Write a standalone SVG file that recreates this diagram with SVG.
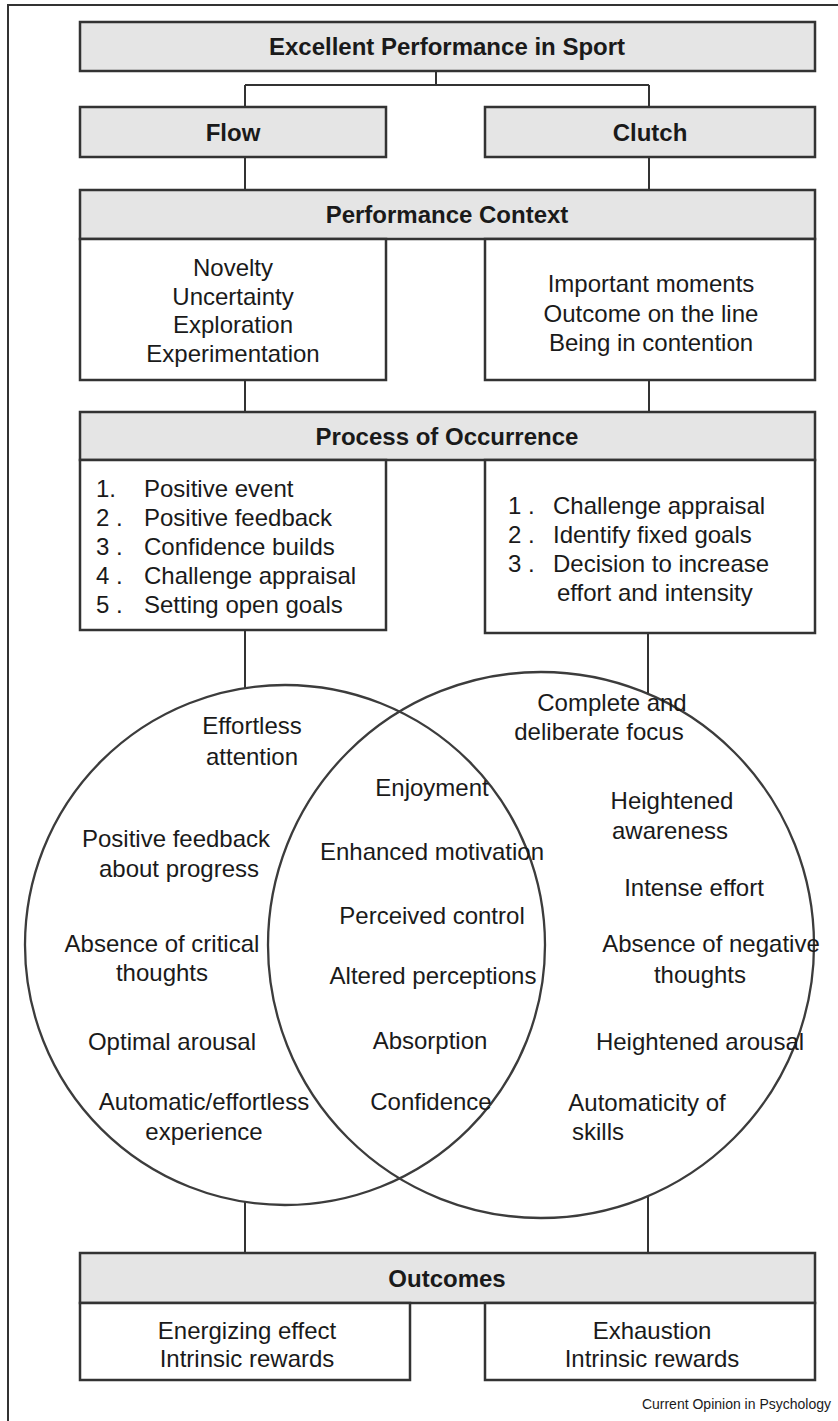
<svg xmlns="http://www.w3.org/2000/svg" width="838" height="1421" viewBox="0 0 838 1421">
<style>
.hdr{fill:#e5e5e5;stroke:#333;stroke-width:2.5}
.box{fill:#fff;stroke:#333;stroke-width:2.5}
.ln{stroke:#333;stroke-width:2;fill:none}
.circ{stroke:#3c3c3c;stroke-width:2.3;fill:none}
text{font-family:"Liberation Sans",Arial,sans-serif;fill:#1a1a1a}
.b{font-weight:bold;font-size:24px;text-anchor:middle}
.t{font-size:24px;text-anchor:middle}
.l{font-size:24px}
.c{font-size:24px;text-anchor:middle}
</style>
<rect width="838" height="1421" fill="#fff"/>
<path class="ln" d="M8,1421 V5 H838"/>
<g id="connectors">
<path class="ln" d="M436,71 V85 M245,85 H649 M245,85 V107 M649,85 V107"/>
<path class="ln" d="M245,157 V190 M649,157 V190"/>
<path class="ln" d="M245,380 V412 M649,380 V412"/>
<path class="ln" d="M245,630 V688 M648,633 V694"/>
<path class="ln" d="M245,1202 V1253 M648,1196 V1253"/>
</g>
<g id="top"><rect class="hdr" x="80" y="22" width="735" height="49"/><text class="b" x="447" y="55">Excellent Performance in Sport</text></g>
<g id="flow"><rect class="hdr" x="80" y="107" width="306" height="50"/><text class="b" x="233" y="141">Flow</text></g>
<g id="clutch"><rect class="hdr" x="485" y="107" width="330" height="50"/><text class="b" x="650" y="141">Clutch</text></g>
<g id="context"><rect class="hdr" x="80" y="190" width="735" height="49"/><text class="b" x="447" y="223">Performance Context</text></g>
<g id="context-flow"><rect class="box" x="80" y="239" width="306" height="141"/>
<text class="t" x="233" y="276">Novelty</text><text class="t" x="233" y="305">Uncertainty</text><text class="t" x="233" y="333">Exploration</text><text class="t" x="233" y="362">Experimentation</text></g>
<g id="context-clutch"><rect class="box" x="485" y="239" width="330" height="141"/>
<text class="t" x="651" y="292">Important moments</text><text class="t" x="651" y="322">Outcome on the line</text><text class="t" x="651" y="351">Being in contention</text></g>
<g id="process"><rect class="hdr" x="80" y="412" width="735" height="48"/><text class="b" x="447" y="445">Process of Occurrence</text></g>
<g id="process-flow"><rect class="box" x="80" y="460" width="306" height="170"/>
<text class="l" x="96" y="497">1.</text><text class="l" x="144" y="497">Positive event</text>
<text class="l" x="96" y="526">2 .</text><text class="l" x="144" y="526">Positive feedback</text>
<text class="l" x="96" y="555">3 .</text><text class="l" x="144" y="555">Confidence builds</text>
<text class="l" x="96" y="584">4 .</text><text class="l" x="144" y="584">Challenge appraisal</text>
<text class="l" x="96" y="613">5 .</text><text class="l" x="144" y="613">Setting open goals</text></g>
<g id="process-clutch"><rect class="box" x="485" y="460" width="330" height="173"/>
<text class="l" x="508" y="514">1 .</text><text class="l" x="553" y="514">Challenge appraisal</text>
<text class="l" x="508" y="543">2 .</text><text class="l" x="553" y="543">Identify fixed goals</text>
<text class="l" x="508" y="572">3 .</text><text class="l" x="553" y="572">Decision to increase</text>
<text class="l" x="557" y="601">effort and intensity</text></g>
<g id="flow-circle"><circle class="circ" cx="285" cy="945" r="260"/>
<text class="c" x="252" y="734">Effortless</text><text class="c" x="252" y="765">attention</text>
<text class="c" x="176" y="847">Positive feedback</text><text class="c" x="179" y="877">about progress</text>
<text class="c" x="162" y="952">Absence of critical</text><text class="c" x="162" y="981">thoughts</text>
<text class="c" x="172" y="1050">Optimal arousal</text>
<text class="c" x="204" y="1110">Automatic/effortless</text><text class="c" x="204" y="1140">experience</text></g>
<g id="clutch-circle"><circle class="circ" cx="541" cy="945" r="273"/>
<text class="c" x="612" y="711">Complete and</text><text class="c" x="599" y="740">deliberate focus</text>
<text class="c" x="672" y="809">Heightened</text><text class="c" x="670" y="839">awareness</text>
<text class="c" x="694" y="896">Intense effort</text>
<text class="c" x="711" y="952">Absence of negative</text><text class="c" x="700" y="983">thoughts</text>
<text class="c" x="700" y="1050">Heightened arousal</text>
<text class="c" x="647" y="1111">Automaticity of</text><text class="c" x="598" y="1140">skills</text></g>
<g id="overlap">
<text class="c" x="432" y="796">Enjoyment</text>
<text class="c" x="432" y="860">Enhanced motivation</text>
<text class="c" x="432" y="924">Perceived control</text>
<text class="c" x="433" y="984">Altered perceptions</text>
<text class="c" x="430" y="1049">Absorption</text>
<text class="c" x="431" y="1110">Confidence</text></g>
<g id="outcomes"><rect class="hdr" x="80" y="1253" width="735" height="50"/><text class="b" x="447" y="1287">Outcomes</text></g>
<g id="outcomes-flow"><rect class="box" x="80" y="1303" width="330" height="77"/>
<text class="t" x="247" y="1339">Energizing effect</text><text class="t" x="247" y="1367">Intrinsic rewards</text></g>
<g id="outcomes-clutch"><rect class="box" x="485" y="1303" width="330" height="77"/>
<text class="t" x="652" y="1339">Exhaustion</text><text class="t" x="652" y="1367">Intrinsic rewards</text></g>
<text x="831" y="1409" style="font-size:14px;text-anchor:end">Current Opinion in Psychology</text>
</svg>
